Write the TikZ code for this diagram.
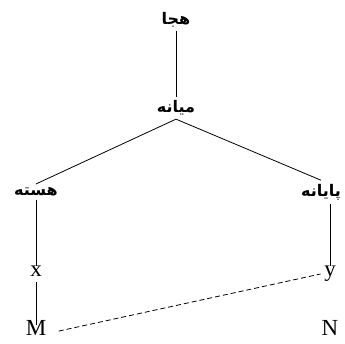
\documentclass[tikz,border=0pt]{standalone}
\usepackage{fontspec}
\setmainfont{Liberation Serif}
\newfontfamily\farsifont[Script=Arabic]{DejaVu Sans}
\TeXXeTstate=1
\usepackage{tikz}
\usetikzlibrary{positioning}
\newcommand{\fa}[1]{{\farsifont\bfseries\fontsize{16}{18}\selectfont\beginR #1\endR}}

\begin{document}
\begin{tikzpicture}[x=1pt, y=1pt, font=\fontsize{23}{25}\selectfont, line width=0.8pt]
            \useasboundingbox (0,0) rectangle (345,-344);
            \node (Hija) at (176,-20) {\fa{هجا}};
            \node[on grid, below=88pt of Hija] (Miane) {\fa{میانه}};
            \node[on grid, below left=84pt and 140pt of Miane] (Haste) {\fa{هسته}};
            \node[on grid, right=285pt of Haste] (Payane) {\fa{پایانه}};
            \node[on grid, below=82pt of Haste, text height=1.5ex, text depth=.25ex] (X) {x};
            \node[on grid, below=59pt of X, text height=1.5ex, text depth=.25ex] (M) {M};
            \node[on grid, right=294pt of X, text height=1.5ex, text depth=.25ex] (Y) {y};
            \node[on grid, right=294pt of M, text height=1.5ex, text depth=.25ex] (N) {N};
            \draw (Hija) -- (Miane);
            \draw (Miane.south) -- (Haste.north);
            \draw (Miane.south) -- (Payane.north);
            \draw (X |- Haste.south) -- (X);
            \draw (Y |- Payane.south) -- (Y);
            \draw (X) -- (M);
            \draw [dashed, dash pattern=on 5pt off 3pt, shorten <=9pt] (M.east) -- (Y.west);
          \end{tikzpicture}
\end{document}
